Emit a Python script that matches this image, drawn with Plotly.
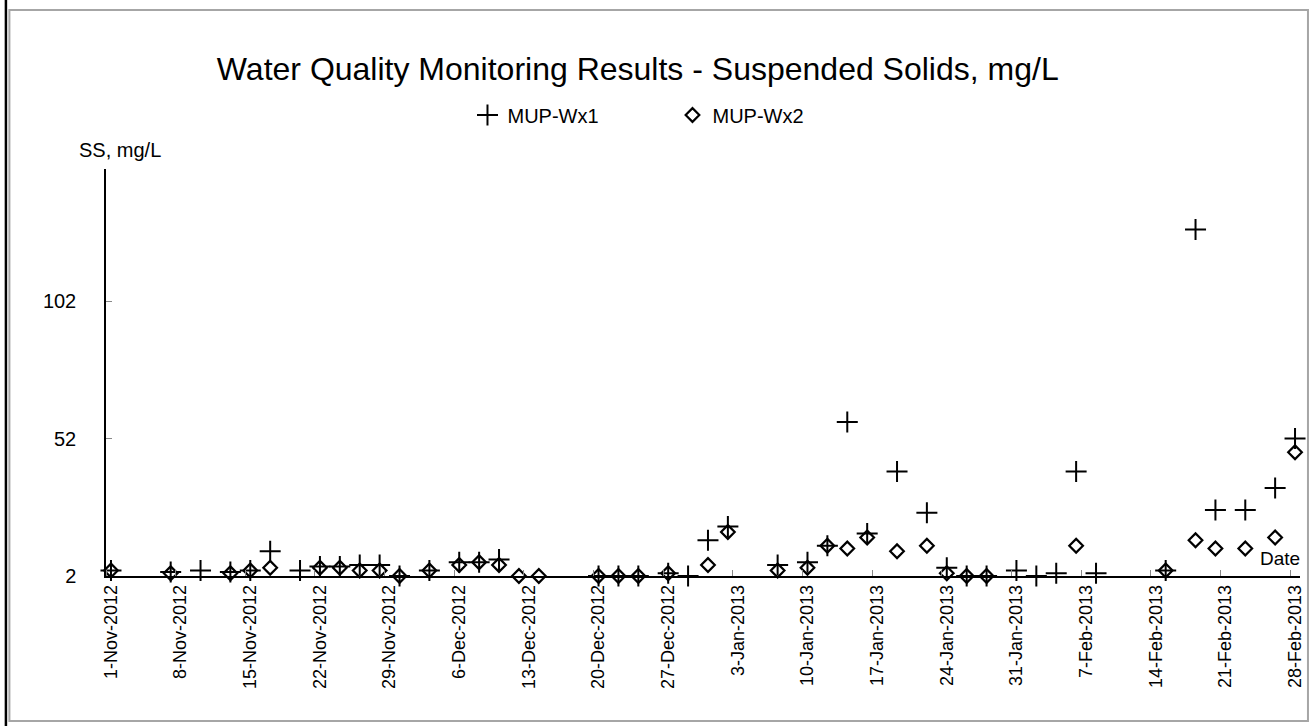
import plotly.graph_objects as go

# ---- data -------------------------------------------------------------
dates = [
    "2012-11-01", "2012-11-07", "2012-11-10", "2012-11-13", "2012-11-15",
    "2012-11-17", "2012-11-20", "2012-11-22", "2012-11-24", "2012-11-26",
    "2012-11-28", "2012-11-30", "2012-12-03", "2012-12-06", "2012-12-08",
    "2012-12-10", "2012-12-12", "2012-12-14", "2012-12-20", "2012-12-22",
    "2012-12-24", "2012-12-27", "2012-12-29", "2012-12-31", "2013-01-02",
    "2013-01-07", "2013-01-10", "2013-01-12", "2013-01-14", "2013-01-16",
    "2013-01-19", "2013-01-22", "2013-01-24", "2013-01-26", "2013-01-28",
    "2013-01-31", "2013-02-02", "2013-02-04", "2013-02-06", "2013-02-08",
    "2013-02-15", "2013-02-18", "2013-02-20", "2013-02-23", "2013-02-26",
    "2013-02-28",
]
wx1 = [
    4, 3.5, 4, 3.5, 4,
    11, 4, 5.5, 5.5, 6,
    6, 2, 4, 7, 7,
    8, None, None, 2, 2,
    2, 3, 2, 15, 20,
    6, 7, 13, 58, 17.5,
    40, 25, 5, 2, 2,
    4, 2, 3, 40, 3,
    4, 128, 26, 26, 34,
    52,
]
wx2 = [
    4, 3, None, 3, 4,
    5, None, 5, 5, 4,
    4, 2, 4, 6, 7,
    6, 2, 2, 2, 2,
    2, 3, None, 6, 18,
    4, 5, 13, 12, 16,
    11, 13, 3, 2, 2,
    None, None, None, 13, None,
    4, 15, 12, 12, 16,
    47,
]
tick_dates = [
    "2012-11-01", "2012-11-08", "2012-11-15", "2012-11-22", "2012-11-29",
    "2012-12-06", "2012-12-13", "2012-12-20", "2012-12-27", "2013-01-03",
    "2013-01-10", "2013-01-17", "2013-01-24", "2013-01-31", "2013-02-07",
    "2013-02-14", "2013-02-21", "2013-02-28",
]
tick_text = [
    "1-Nov-2012", "8-Nov-2012", "15-Nov-2012", "22-Nov-2012", "29-Nov-2012",
    "6-Dec-2012", "13-Dec-2012", "20-Dec-2012", "27-Dec-2012", "3-Jan-2013",
    "10-Jan-2013", "17-Jan-2013", "24-Jan-2013", "31-Jan-2013", "7-Feb-2013",
    "14-Feb-2013", "21-Feb-2013", "28-Feb-2013",
]
y_ticks = [2, 52, 102]

FONT = "Liberation Sans, Arial, sans-serif"

fig = go.Figure()
fig.add_trace(go.Scatter(
    x=dates, y=wx1, mode="markers", name="MUP-Wx1",
    marker=dict(symbol="cross-thin-open", size=15, color="black",
                line=dict(color="black", width=2)),
    cliponaxis=False,
))
fig.add_trace(go.Scatter(
    x=dates, y=wx2, mode="markers", name="MUP-Wx2",
    marker=dict(symbol="diamond-open", size=10.5, color="black",
                line=dict(color="black", width=2.2)),
    cliponaxis=False,
))

W, H = 1316, 726
L, R, T, B = 106, 11, 169, 150
pw, ph = W - L - R, H - T - B


def px(xp):
    return (xp - L) / pw


def py(yp):
    return (H - B - yp) / ph


fig.update_layout(
    width=W, height=H,
    margin=dict(l=L, r=R, t=T, b=B),
    paper_bgcolor="white", plot_bgcolor="white",
    font=dict(family=FONT, color="black", size=18),
    title=dict(text="Water Quality Monitoring Results - Suspended Solids, mg/L",
               x=px(640), xref="paper", xanchor="center",
               y=1 - 69 / H, yanchor="middle",
               font=dict(size=32, family=FONT, color="black")),
    showlegend=True,
    legend=dict(orientation="h", x=px(469), xanchor="left",
                y=py(115), yanchor="middle",
                font=dict(size=20, family=FONT), itemwidth=30,
                bgcolor="rgba(0,0,0,0)", tracegroupgap=0,
                entrywidth=160),
    xaxis=dict(
        type="date",
        range=["2012-10-31 12:00", "2013-02-28 12:00"],
        tickmode="array", tickvals=tick_dates, ticktext=tick_text,
        tickangle=-90, ticks="", ticklen=0,
        tickfont=dict(size=18, family=FONT),
        showline=True, linecolor="black", linewidth=1.5,
        showgrid=False, zeroline=False,
        minor=dict(ticks="inside", ticklen=6, tickcolor="#888888",
                   tick0="2012-10-31 12:00", dtick=7 * 86400000,
                   showgrid=False),
    ),
    yaxis=dict(
        range=[2, 150],
        tickmode="array", tickvals=y_ticks,
        ticks="inside", ticklen=6, tickcolor="#888888",
        tickfont=dict(size=20, family=FONT),
        ticklabelstandoff=24,
        showline=True, linecolor="black", linewidth=1.5,
        showgrid=False, zeroline=False,
    ),
    annotations=[
        dict(text="SS, mg/L", xref="paper", yref="paper",
             x=px(120), y=py(150), xanchor="center", yanchor="middle",
             showarrow=False, font=dict(size=20, family=FONT)),
        dict(text="Date", xref="paper", yref="paper",
             x=px(1307), y=py(558), xanchor="right", yanchor="middle",
             showarrow=False, font=dict(size=19, family=FONT)),
    ],
    shapes=[
        dict(type="rect", xref="paper", yref="paper",
             x0=px(9), x1=px(1313), y0=py(721), y1=py(10),
             line=dict(color="#a6a6a6", width=2), layer="below"),
        dict(type="line", xref="paper", yref="paper",
             x0=px(5.5), x1=px(5.5), y0=py(726), y1=py(0),
             line=dict(color="black", width=2.5)),
    ],
)

fig.write_html("out.html",
               config={"displayModeBar": False},
               post_script="document.body.style.margin='0';"
                           "document.body.style.overflow='hidden';")
